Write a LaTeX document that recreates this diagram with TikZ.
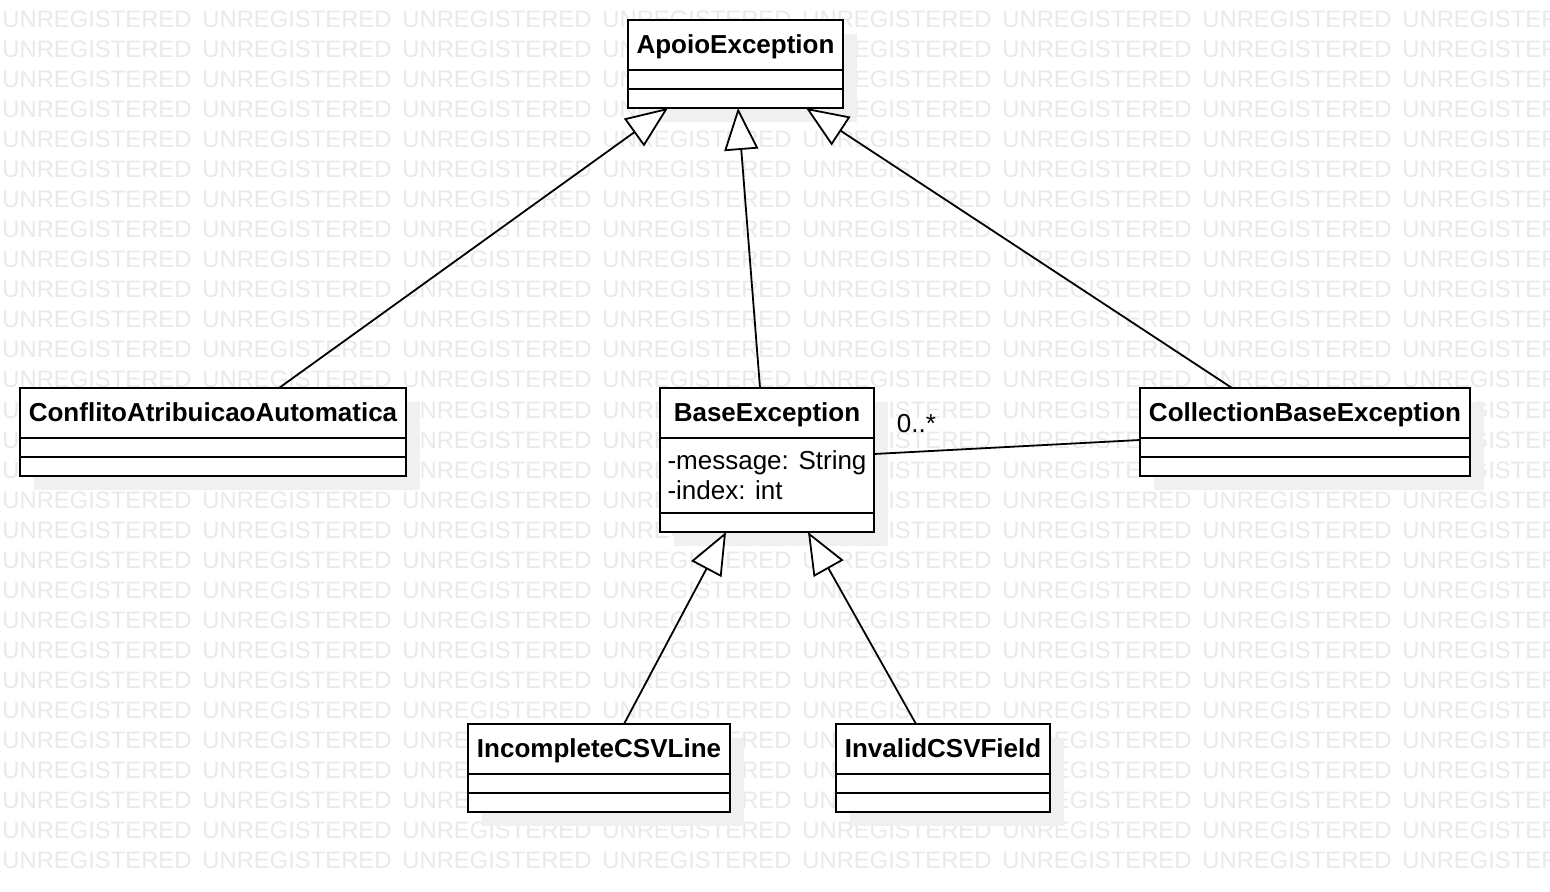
\documentclass[tikz,border=0pt]{standalone}
\usepackage{fontspec}
\setmainfont{Liberation Sans}
\usetikzlibrary{positioning,arrows.meta,backgrounds}
\definecolor{wmgray}{HTML}{E9E9E9}
\definecolor{shadowgray}{HTML}{F0F0F0}

\begin{document}
\begin{tikzpicture}[x=0.5pt, y=-0.5pt,
    box/.style={draw, fill=white, line width=1.1pt, inner sep=0pt, outer sep=0pt},
    clsname/.style={box, minimum width=#1, minimum height=25pt, text height=10.25pt, text depth=2pt,
      font=\bfseries\fontsize{13}{15}\selectfont},
    clspart/.style={box, minimum width=#1, minimum height=9.5pt},
    gen/.style={line width=0.9pt, -{Triangle[length=21pt, width=17pt, fill=white]}},
    assoc/.style={line width=0.9pt},
    wmark/.style={text=wmgray, inner sep=0pt, font=\fontsize{11.9}{13}\selectfont},
    shadowbox/.style={fill=shadowgray}]
  \useasboundingbox (0,0) rectangle (1550,892);

  % classes
  \node[clsname=107.5pt, anchor=north west] (apoio) at (628,20) {ApoioException};
  \node[clspart=107.5pt, below=0pt of apoio] (apoioA) {};
  \node[clspart=107.5pt, below=0pt of apoioA] (apoioO) {};

  \node[clsname=193pt, anchor=north west] (conflito) at (20,388) {ConflitoAtribuicaoAutomatica};
  \node[clspart=193pt, below=0pt of conflito] (conflitoA) {};
  \node[clspart=193pt, below=0pt of conflitoA] (conflitoO) {};

  \node[clsname=107pt, anchor=north west] (base) at (660,388) {BaseException};
  \node[box, below=0pt of base, minimum width=107pt, minimum height=37.5pt, inner ysep=2pt,
    align=left, font=\fontsize{13}{15}\selectfont] (baseA) {-message: String\\-index: int};
  \node[clspart=107pt, below=0pt of baseA] (baseO) {};

  \node[clsname=165pt, anchor=north west] (coll) at (1140,388) {CollectionBaseException};
  \node[clspart=165pt, below=0pt of coll] (collA) {};
  \node[clspart=165pt, below=0pt of collA] (collO) {};

  \node[clsname=131pt, anchor=north west] (incomp) at (468,724) {IncompleteCSVLine};
  \node[clspart=131pt, below=0pt of incomp] (incompA) {};
  \node[clspart=131pt, below=0pt of incompA] (incompO) {};

  \node[clsname=107pt, anchor=north west] (invalid) at (836,724) {InvalidCSVField};
  \node[clspart=107pt, below=0pt of invalid] (invalidA) {};
  \node[clspart=107pt, below=0pt of invalidA] (invalidO) {};

  % generalizations
  \draw[gen] ([xshift=129.5pt]conflito.north west) -- ([xshift=20pt]apoioO.south west);
  \draw[gen] ([xshift=50pt]base.north west) -- ([xshift=55pt]apoioO.south west);
  \draw[gen] ([xshift=46pt]coll.north west) -- ([xshift=89pt]apoioO.south west);
  \draw[gen] ([xshift=78pt]incomp.north west) -- ([xshift=33pt]baseO.south west);
  \draw[gen] ([xshift=40pt]invalid.north west) -- ([xshift=74pt]baseO.south west);

  % association
  \draw[assoc] ([yshift=-8pt]baseA.north east) -- ([yshift=-1pt]collA.north west)
    node[pos=0, anchor=south west, xshift=11pt, yshift=10pt, inner sep=0pt,
      font=\fontsize{13}{15}\selectfont] (mult) {0..*};

  \begin{scope}[on background layer]
    \begin{scope}
      \clip (0,0) rectangle (1550,892);
      \foreach \r in {0,...,28}
        \foreach \c in {0,...,7}
          \node[wmark, anchor=base west] (wm-\r-\c) at (2+200*\c, 28+30*\r) {UNREGISTERED};
    \end{scope}
    \foreach \n/\m in {apoio/apoioO, conflito/conflitoO, base/baseO, coll/collO,
        incomp/incompO, invalid/invalidO}
      \fill[shadowbox] ([shift={(7pt,-7pt)}]\n.north west) rectangle ([shift={(7pt,-7pt)}]\m.south east);
  \end{scope}
\end{tikzpicture}
\end{document}
